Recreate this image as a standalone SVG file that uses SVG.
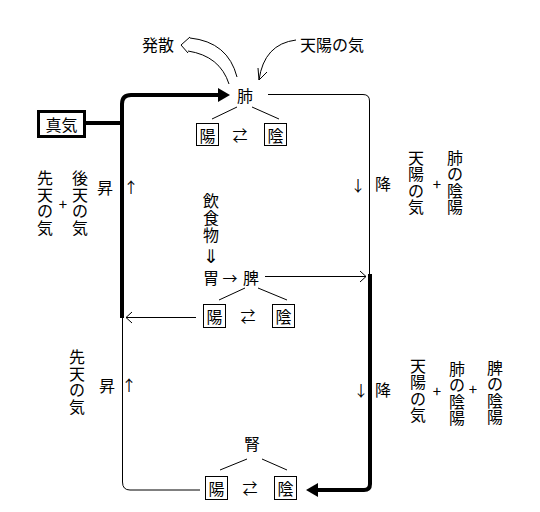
<svg xmlns="http://www.w3.org/2000/svg" width="540" height="512" viewBox="0 0 540 512">
<style>
text{font-family:"Noto Sans CJK JP","DejaVu Sans",sans-serif;font-size:16px;fill:#000;text-anchor:middle;dominant-baseline:central}
text.sym{font-size:15px}
text.dj{font-family:"DejaVu Sans",sans-serif;font-size:19px}
.thin{fill:none;stroke:#000;stroke-width:1}
.thick{fill:none;stroke:#000;stroke-width:4}
.box{fill:#fff;stroke:#000;stroke-width:1}
</style>
<rect width="540" height="512" fill="#fff"/>
<g id="connectors">
  <path class="thick" d="M122,318 V104 Q122,95 131,95 H220"/>
  <polygon points="230,95 218,88 218,102" fill="#000"/>
  <path class="thick" d="M85,123 H122"/>
  <path class="thin" d="M122.5,318 V482 Q122.5,490 130,490 H200"/>
  <path class="thin" d="M196,317.5 H126 M132,312 L126,317.5 L132,323"/>
  <path class="thin" d="M268,94.5 H363 Q369.5,94.5 369.5,101 V275"/>
  <path class="thin" d="M265,276.5 H366 M360,271 L366,276.5 L360,282"/>
  <path class="thick" d="M370,274 V484 Q370,490 364,490 H316"/>
  <polygon points="306,490 318,483 318,497" fill="#000"/>
  <path class="thin" d="M237,77 Q228,42 190,38 M229,84 Q220,56 188,51 M190,37 L181,45 L188,53"/>
  <path class="thin" d="M296,40 Q264,44 259,80 M258,68 L259,80 L267,72"/>
  <path class="thin" d="M237,107 L212,119 M252,107 L279,119"/>
  <path class="thin" d="M245,288 L219,300 M258,288 L287,300"/>
  <path class="thin" d="M247,459 L220,470 M262,459 L287,470"/>
</g>
<g id="shinki">
  <rect x="38.5" y="111.5" width="46" height="25" fill="#fff" stroke="#000" stroke-width="3"/>
  <text x="61.5" y="124">真気</text>
</g>
<g id="hai">
  <text x="245" y="95">肺</text>
  <rect class="box" x="196.5" y="123.5" width="22" height="22"/>
  <text x="207.5" y="134.5">陽</text>
  <text class="sym" x="240" y="134">⇄</text>
  <rect class="box" x="264.5" y="123.5" width="22" height="22"/>
  <text x="275.5" y="134.5">陰</text>
</g>
<g id="hassan"><text x="158" y="44">発散</text></g>
<g id="tenyo"><text x="332" y="44">天陽の気</text></g>
<g id="hi">
  <text x="211" y="277">胃</text>
  <text class="sym" x="230" y="277">→</text>
  <text x="251" y="277">脾</text>
  <rect class="box" x="203.5" y="304.5" width="22" height="23"/>
  <text x="214.5" y="316">陽</text>
  <text class="sym" x="248" y="315">⇄</text>
  <rect class="box" x="272.5" y="304.5" width="22" height="23"/>
  <text x="283.5" y="316">陰</text>
</g>
<g id="inshoku">
  <text x="211" y="200">飲</text>
  <text x="211" y="217">食</text>
  <text x="211" y="234">物</text>
  <text class="dj" x="211" y="256">⇓</text>
</g>
<g id="jin">
  <text x="252" y="443">腎</text>
  <rect class="box" x="205.5" y="476.5" width="22" height="23"/>
  <text x="216.5" y="488">陽</text>
  <text class="sym" x="250" y="487">⇄</text>
  <rect class="box" x="274.5" y="476.5" width="22" height="23"/>
  <text x="285.5" y="488">陰</text>
</g>
<g id="labels-left-top">
  <text x="45" y="177">先</text><text x="45" y="194">天</text><text x="45" y="210">の</text><text x="45" y="227">気</text>
  <text class="sym" x="63" y="203">+</text>
  <text x="80" y="177">後</text><text x="80" y="194">天</text><text x="80" y="210">の</text><text x="80" y="227">気</text>
  <text x="105" y="187">昇</text>
  <text class="sym" x="131" y="186">↑</text>
</g>
<g id="labels-left-bottom">
  <text x="77" y="356">先</text><text x="77" y="373">天</text><text x="77" y="389">の</text><text x="77" y="406">気</text>
  <text x="107" y="385">昇</text>
  <text class="sym" x="129" y="384">↑</text>
</g>
<g id="labels-right-top">
  <text class="sym" x="358" y="184">↓</text>
  <text x="383" y="183">降</text>
  <text x="416" y="157">天</text><text x="416" y="173">陽</text><text x="416" y="190">の</text><text x="416" y="206">気</text>
  <text class="sym" x="437" y="183">+</text>
  <text x="455" y="157">肺</text><text x="455" y="173">の</text><text x="455" y="190">陰</text><text x="455" y="206">陽</text>
</g>
<g id="labels-right-bottom">
  <text class="sym" x="361" y="389">↓</text>
  <text x="383" y="389">降</text>
  <text x="418" y="365">天</text><text x="418" y="381">陽</text><text x="418" y="398">の</text><text x="418" y="414">気</text>
  <text class="sym" x="437" y="390">+</text>
  <text x="457" y="368">肺</text><text x="457" y="384">の</text><text x="457" y="401">陰</text><text x="457" y="417">陽</text>
  <text class="sym" x="473" y="388">+</text>
  <text x="495" y="367">脾</text><text x="495" y="383">の</text><text x="495" y="400">陰</text><text x="495" y="416">陽</text>
</g>
</svg>
